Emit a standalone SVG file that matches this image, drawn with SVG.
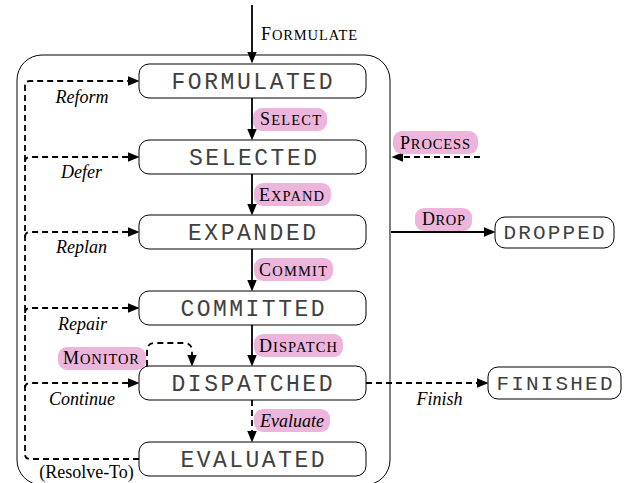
<svg xmlns="http://www.w3.org/2000/svg" width="631" height="483" viewBox="0 0 631 483">
<style>
.node{fill:#fff;stroke:#000;stroke-width:1}
.nt{font-family:"Liberation Mono","Courier New",monospace;font-size:23px;fill:#404040;text-anchor:middle}
.nts{font-family:"Liberation Mono","Courier New",monospace;font-size:21px;fill:#404040;text-anchor:middle}
.pill{fill:#edb5db;stroke:none}
.sc{font-family:"Liberation Serif","Times New Roman",serif;fill:#000}
.big{font-size:18px}
.small{font-size:14.5px}
.it{font-family:"Liberation Serif","Times New Roman",serif;font-style:italic;font-size:18px;fill:#000}
.rm{font-family:"Liberation Serif","Times New Roman",serif;font-size:18px;fill:#000}
.c{fill:none;stroke:#000;stroke-width:1.8}
.d{stroke-dasharray:6 4}
.arr{marker-end:url(#ah)}
</style>
<defs>
<marker id="ah" markerUnits="userSpaceOnUse" markerWidth="12" markerHeight="10" refX="5" refY="4.5" orient="auto" viewBox="0 0 11 9">
<path d="M0,0 L11,4.5 L0,9 z" fill="#000" stroke="none"/>
</marker>
</defs>
<rect x="17" y="55" width="373" height="430" rx="25" fill="none" stroke="#000" stroke-width="1"/>
<g id="connectors">
<path class="c arr" d="M252,5 V57"/>
<path class="c arr" d="M252,98 V134"/>
<path class="c arr" d="M252,174 V209"/>
<path class="c arr" d="M252,249 V285"/>
<path class="c arr" d="M252,325 V360"/>
<path class="c d arr" d="M252,400 V436"/>
<path class="c d arr" d="M139,459 H30 Q25,459 25,454 V86 Q25,81 30,81 H133"/>
<path class="c d arr" d="M25,162 Q25,157 30,157 H133"/>
<path class="c d arr" d="M25,237 Q25,232 30,232 H133"/>
<path class="c d arr" d="M25,313 Q25,308 30,308 H133"/>
<path class="c d arr" d="M25,388 Q25,383 30,383 H133"/>
<path class="c d arr" d="M147,366 V351 Q147,343 155,343 H184 Q192,343 192,351 V360"/>
<path class="c d arr" d="M366,383 H482"/>
<path class="c arr" d="M391,232 H489"/>
<path class="c d arr" d="M480,157 H398"/>
</g>
<g id="labels">
<text class="sc" x="261" y="40" textLength="96" lengthAdjust="spacing"><tspan class="big">F</tspan><tspan class="small">ORMULATE</tspan></text>
<rect class="pill" x="253" y="108" width="74" height="23" rx="9"/>
<text class="sc" x="260" y="125" textLength="61" lengthAdjust="spacing"><tspan class="big">S</tspan><tspan class="small">ELECT</tspan></text>
<rect class="pill" x="254" y="183" width="77" height="23" rx="9"/>
<text class="sc" x="259" y="200.5" textLength="65" lengthAdjust="spacing"><tspan class="big">E</tspan><tspan class="small">XPAND</tspan></text>
<rect class="pill" x="254" y="258" width="79" height="23" rx="9"/>
<text class="sc" x="259" y="275.5" textLength="68" lengthAdjust="spacing"><tspan class="big">C</tspan><tspan class="small">OMMIT</tspan></text>
<rect class="pill" x="254" y="334" width="89" height="23" rx="9"/>
<text class="sc" x="259" y="351.5" textLength="78" lengthAdjust="spacing"><tspan class="big">D</tspan><tspan class="small">ISPATCH</tspan></text>
<rect class="pill" x="254" y="409" width="76" height="23" rx="9"/>
<text class="it" x="260" y="426.5">Evaluate</text>
<rect class="pill" x="58" y="347" width="88" height="23" rx="9"/>
<text class="sc" x="63" y="364" textLength="76" lengthAdjust="spacing"><tspan class="big">M</tspan><tspan class="small">ONITOR</tspan></text>
<rect class="pill" x="393" y="131" width="85" height="23" rx="9"/>
<text class="sc" x="400" y="148.5" textLength="70" lengthAdjust="spacing"><tspan class="big">P</tspan><tspan class="small">ROCESS</tspan></text>
<rect class="pill" x="415" y="208" width="57" height="23" rx="9"/>
<text class="sc" x="422" y="225" textLength="43" lengthAdjust="spacing"><tspan class="big">D</tspan><tspan class="small">ROP</tspan></text>
<text class="it" x="82" y="103" text-anchor="middle">Reform</text>
<text class="it" x="81.5" y="178" text-anchor="middle">Defer</text>
<text class="it" x="81.5" y="253" text-anchor="middle">Replan</text>
<text class="it" x="82.5" y="330" text-anchor="middle">Repair</text>
<text class="it" x="82" y="405" text-anchor="middle">Continue</text>
<text class="rm" x="86.5" y="478" text-anchor="middle">(Resolve-To)</text>
<text class="it" x="439.5" y="405" text-anchor="middle">Finish</text>
</g>
<g id="n-formulated"><rect class="node" x="139" y="64" width="227" height="34" rx="10"/><text class="nt" x="252" y="89" textLength="161" lengthAdjust="spacing">FORMULATED</text></g>
<g id="n-selected"><rect class="node" x="139" y="140" width="227" height="34" rx="10"/><text class="nt" x="253" y="165" textLength="128" lengthAdjust="spacing">SELECTED</text></g>
<g id="n-expanded"><rect class="node" x="139" y="215" width="227" height="34" rx="10"/><text class="nt" x="252" y="240" textLength="128" lengthAdjust="spacing">EXPANDED</text></g>
<g id="n-committed"><rect class="node" x="139" y="291" width="227" height="34" rx="10"/><text class="nt" x="252.5" y="316" textLength="144" lengthAdjust="spacing">COMMITTED</text></g>
<g id="n-dispatched"><rect class="node" x="139" y="366" width="227" height="34" rx="10"/><text class="nt" x="252" y="391" textLength="161" lengthAdjust="spacing">DISPATCHED</text></g>
<g id="n-evaluated"><rect class="node" x="139" y="442" width="227" height="34" rx="10"/><text class="nt" x="252.5" y="467" textLength="144" lengthAdjust="spacing">EVALUATED</text></g>
<g id="n-dropped"><rect class="node" x="495" y="217" width="119" height="31" rx="10"/><text class="nts" x="554" y="239" textLength="101" lengthAdjust="spacing">DROPPED</text></g>
<g id="n-finished"><rect class="node" x="488" y="367" width="133" height="32" rx="10"/><text class="nts" x="554.5" y="390" textLength="116" lengthAdjust="spacing">FINISHED</text></g>
</svg>
